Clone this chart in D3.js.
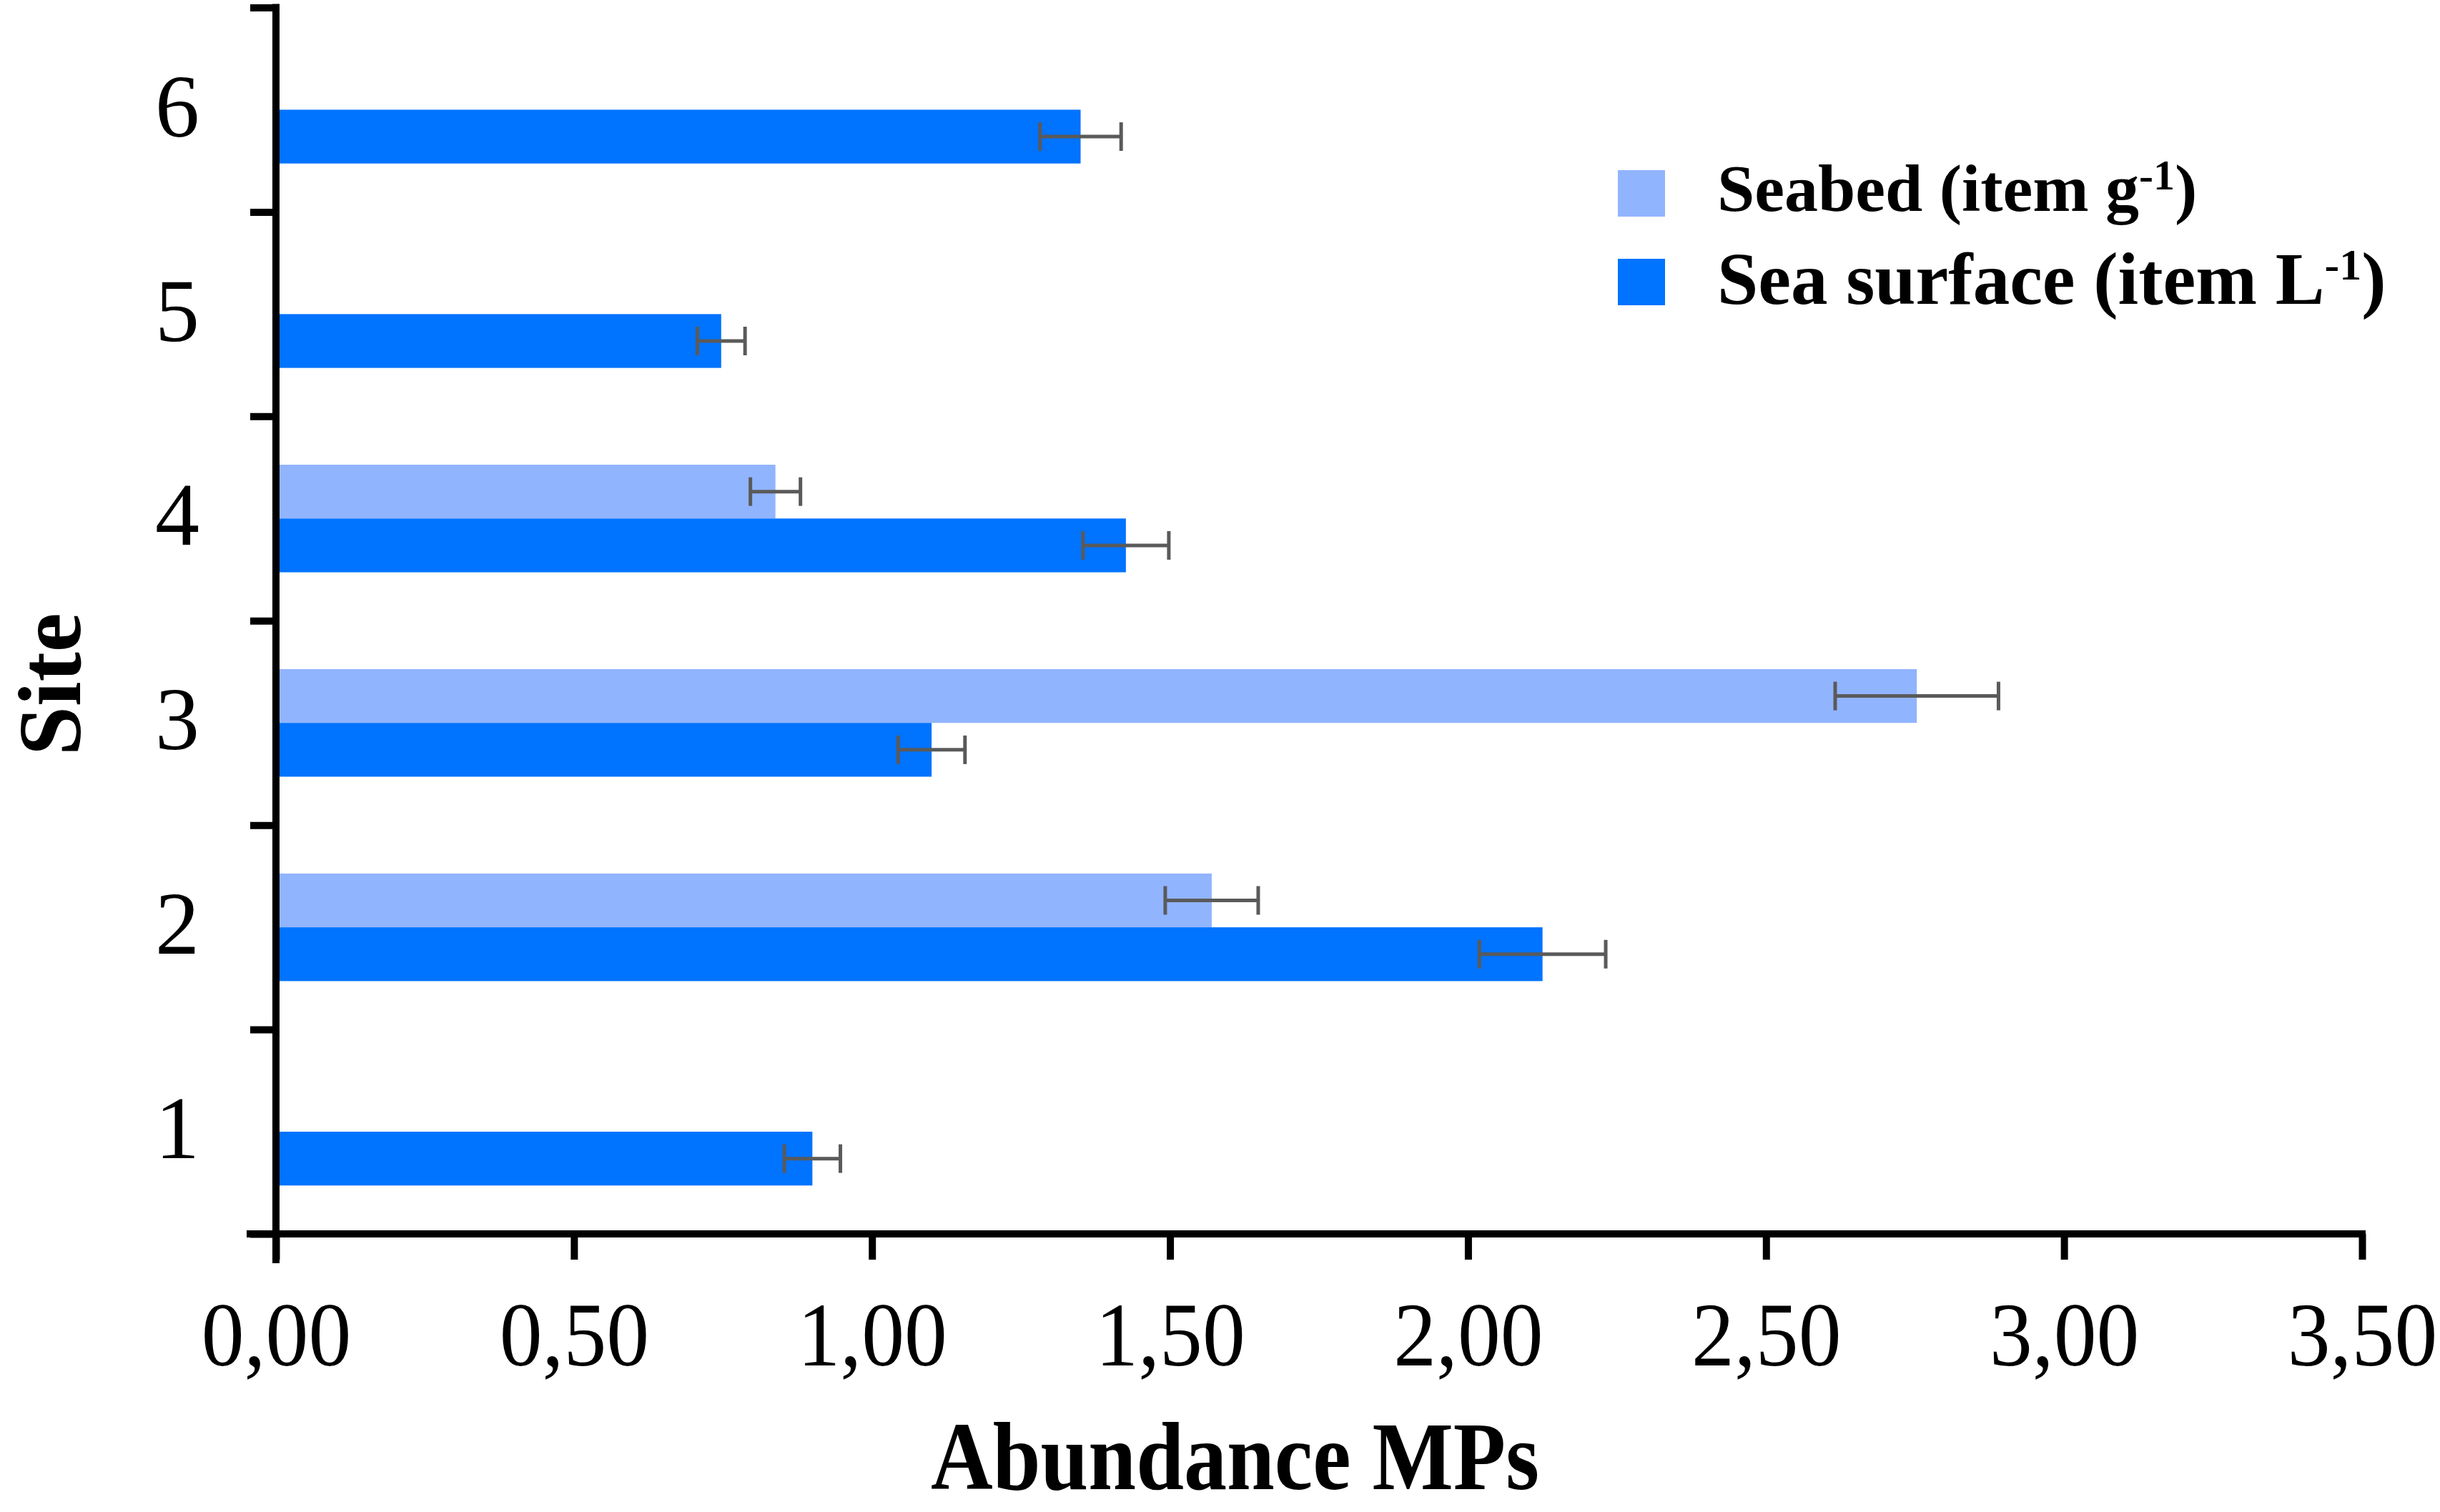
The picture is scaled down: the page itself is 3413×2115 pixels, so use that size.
<!DOCTYPE html>
<html>
<head>
<meta charset="utf-8">
<script src="https://cdn.jsdelivr.net/npm/d3@7"></script>
<style>
  html, body { margin: 0; padding: 0; background: #fff; }
  text { font-family: "Liberation Serif", "Times New Roman", serif; fill: #000; }
</style>
</head>
<body>
<div id="chart-container"></div>
<script>
const sites = ["1", "2", "3", "4", "5", "6"];
const seriesKeys = ["seabed", "surface"];
const seabed = [null, 1.57, 2.753, 0.838, null, null];
const seabedErr = [null, 0.078, 0.137, 0.042, null, null];
const surface = [0.9, 2.125, 1.1, 1.426, 0.747, 1.35];
const surfaceErr = [0.047, 0.106, 0.056, 0.072, 0.04, 0.068];
const xTicks = [0, 0.5, 1, 1.5, 2, 2.5, 3, 3.5];
const legendLabels = ["Seabed (item g", "Sea surface (item L"];
const legendSup = ["-1", "-1"];

const render = () => {
  const width = 3413;
  const height = 2115;
  const left = 386;
  const right = 3304;
  const top = 10.5;
  const bottom = 1726;

  const colors = { seabed: "#91b4ff", surface: "#0073ff" };

  const svg = d3
    .select("#chart-container")
    .append("svg")
    .attr("width", width)
    .attr("height", height)
    .style("display", "block");

  svg.append("rect").attr("width", width).attr("height", height).attr("fill", "#fff");

  const x = d3.scaleLinear().domain([0, 3.5]).range([left, right]);
  const y = d3.scaleBand().domain(sites.slice().reverse()).range([top, bottom]);
  const sub = d3
    .scaleBand()
    .domain(seriesKeys)
    .range([0, y.bandwidth()])
    .paddingInner(0)
    .paddingOuter(0.9);
  const yEdge = d3.scaleLinear().domain([0, sites.length]).range([bottom, top]);

  const rows = [];
  sites.forEach((site, i) => {
    if (seabed[i] !== null) {
      rows.push({ site, key: "seabed", value: seabed[i], err: seabedErr[i] });
    }
    rows.push({ site, key: "surface", value: surface[i], err: surfaceErr[i] });
  });

  const bars = svg.append("g");
  bars
    .selectAll("rect")
    .data(rows)
    .join("rect")
    .attr("x", x(0))
    .attr("y", (d) => y(d.site) + sub(d.key))
    .attr("width", (d) => x(d.value) - x(0))
    .attr("height", sub.bandwidth())
    .attr("fill", (d) => colors[d.key]);

  const errs = svg
    .append("g")
    .attr("stroke", "#5a5a5a")
    .attr("stroke-width", 5)
    .selectAll("g")
    .data(rows)
    .join("g")
    .attr("transform", (d) => `translate(0,${y(d.site) + sub(d.key) + sub.bandwidth() / 2})`);
  const capH = 20;
  errs
    .append("line")
    .attr("x1", (d) => x(d.value - d.err))
    .attr("x2", (d) => x(d.value + d.err));
  errs
    .append("line")
    .attr("x1", (d) => x(d.value - d.err))
    .attr("x2", (d) => x(d.value - d.err))
    .attr("y1", -capH)
    .attr("y2", capH);
  errs
    .append("line")
    .attr("x1", (d) => x(d.value + d.err))
    .attr("x2", (d) => x(d.value + d.err))
    .attr("y1", -capH)
    .attr("y2", capH);

  const xAxis = svg
    .append("g")
    .attr("transform", `translate(0,${bottom})`)
    .call(
      d3
        .axisBottom(x)
        .tickValues(xTicks)
        .tickSize(36)
        .tickSizeOuter(0)
        .tickFormat((d) => d3.format(".2f")(d).replace(".", ","))
    );
  xAxis.select(".domain").attr("d", `M${left - 36},0H${right}`);
  xAxis
    .selectAll("text")
    .attr("y", 184)
    .attr("dy", 0)
    .style("font-size", "126px")
    .attr("transform", "scale(0.95,1)");

  const yAxis = svg
    .append("g")
    .attr("transform", `translate(${left},0)`)
    .call(d3.axisLeft(yEdge).tickValues(d3.range(sites.length + 1)).tickSize(36).tickSizeOuter(0).tickFormat(""));
  yAxis.select(".domain").attr("d", `M0,${top}V${bottom + 36}`);

  const yLabels = svg
    .append("g")
    .attr("transform", `translate(${left},0)`)
    .call(d3.axisLeft(y).tickSize(0).tickPadding(107));
  yLabels.select(".domain").remove();
  yLabels.selectAll("text").attr("dy", "0.3em").style("font-size", "124px");

  svg
    .selectAll(".domain, .tick line")
    .attr("stroke", "#000")
    .attr("stroke-width", 10)
    .attr("stroke-linecap", "square");
  svg.selectAll(".tick line").attr("stroke-linecap", "butt");

  svg
    .append("text")
    .attr("transform", "translate(112,957) rotate(-90)")
    .attr("text-anchor", "middle")
    .style("font-size", "124px")
    .style("font-weight", "bold")
    .text("Site");

  svg
    .append("text")
    .attr("x", 1302)
    .attr("y", 2083)
    .attr("textLength", 851)
    .attr("lengthAdjust", "spacingAndGlyphs")
    .style("font-size", "136px")
    .style("font-weight", "bold")
    .text("Abundance MPs");

  const legendFont = [94, 103];
  const legendSupFont = [60, 62];
  const legendShift = [30, 34];
  const legendRow = d3.scaleBand().domain(seriesKeys).range([238, 490]).paddingInner(0).paddingOuter(0);

  const legend = svg
    .append("g")
    .selectAll("g")
    .data(seriesKeys)
    .join("g")
    .attr("transform", (d) => `translate(2263,${legendRow(d) - (d === "surface" ? 2 : 0)})`);
  legend.append("rect").attr("width", 66).attr("height", 65).attr("fill", (d) => colors[d]);
  const legendText = legend
    .append("text")
    .attr("x", 139)
    .attr("y", (d, i) => [57, 63][i])
    .style("font-weight", "bold")
    .style("font-size", (d, i) => `${legendFont[i]}px`);
  legendText.append("tspan").text((d, i) => legendLabels[i]);
  legendText
    .append("tspan")
    .attr("dy", (d, i) => -legendShift[i])
    .style("font-size", (d, i) => `${legendSupFont[i]}px`)
    .text((d, i) => legendSup[i]);
  legendText
    .append("tspan")
    .attr("dy", (d, i) => legendShift[i])
    .text(")");
};

render();
</script>
</body>
</html>
